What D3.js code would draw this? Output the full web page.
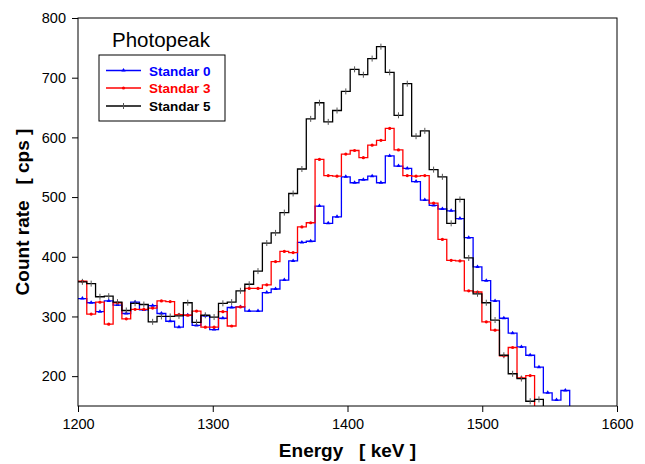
<!doctype html>
<html>
<head>
<meta charset="utf-8">
<title>Photopeak</title>
<style>
  body { margin: 0; background: #fff; }
  svg { display: block; }
  .tick text { font-family: "Liberation Sans", Arial, sans-serif; font-size: 14.5px; }
  .axis-title { font-family: "Liberation Sans", Arial, sans-serif; font-size: 19px; font-weight: bold; }
</style>
</head>
<body>
<svg></svg>
<script src="https://cdnjs.cloudflare.com/ajax/libs/d3/7.8.5/d3.min.js"></script>
<script>
// energy calibration of the channels: first channel edge and channel width (keV)
var energyStart = 1200;
var channelWidth = 6.516;

// count rate per channel [cps]
var standar0 = [330, 323, 308, 326, 319, 305, 324, 311, 318, 305, 292, 282, 302, 285, 301, 278,
  297, 315, 316, 309, 309, 340, 346, 361, 393, 424, 426, 485, 456, 467, 534, 524, 529, 535,
  524, 569, 552, 548, 526, 495, 486, 480, 477, 464, 432, 383, 360, 326, 297, 272, 249, 235,
  215, 172, 160, 176];
var standar3 = [359, 304, 324, 287, 323, 296, 312, 312, 314, 326, 325, 303, 302, 309, 282, 282,
  308, 284, 316, 347, 347, 353, 392, 409, 407, 450, 457, 563, 536, 535, 572, 578, 566, 587,
  595, 615, 579, 536, 535, 536, 490, 429, 394, 393, 343, 341, 291, 277, 234, 248, 197, 201];
var standar5 = [358, 355, 333, 334, 324, 310, 322, 320, 291, 300, 300, 301, 323, 290, 302, 299,
  322, 324, 343, 354, 376, 423, 440, 474, 506, 547, 631, 658, 626, 645, 677, 714, 705, 732,
  752, 709, 637, 690, 602, 611, 546, 534, 456, 496, 398, 338, 323, 294, 235, 204, 196, 158, 161];

var xTicks = [1200, 1300, 1400, 1500, 1600];
var yTicks = [200, 300, 400, 500, 600, 700, 800];

var series = [
  { name: "Standar 0", values: standar0, color: "#0000ff", marker: "triangle" },
  { name: "Standar 3", values: standar3, color: "#ff0000", marker: "circle" },
  { name: "Standar 5", values: standar5, color: "#000000", marker: "cross" }
];

var width = 645, height = 464;
var margin = { top: 18, right: 28, bottom: 58, left: 78 };

var svg = d3.select("svg")
  .attr("width", width)
  .attr("height", height);

var x = d3.scaleLinear()
  .domain([1200, 1600])
  .range([margin.left, width - margin.right]);

var y = d3.scaleLinear()
  .domain([150, 800])
  .range([height - margin.bottom, margin.top]);

svg.append("clipPath")
  .attr("id", "plot-clip")
  .append("rect")
  .attr("x", x(1200))
  .attr("y", y(800))
  .attr("width", x(1600) - x(1200))
  .attr("height", y(150) - y(800));

var line = d3.line()
  .x(function(d) { return x(d[0]); })
  .y(function(d) { return y(d[1]); })
  .curve(d3.curveStepAfter);

var plot = svg.append("g").attr("clip-path", "url(#plot-clip)");

series.forEach(function(s) {
  // step points on channel edges; the last one drops below the axis
  var pts = s.values.map(function(v, i) { return [energyStart + i * channelWidth, v]; });
  pts.push([energyStart + s.values.length * channelWidth, 100]);

  plot.append("path")
    .datum(pts)
    .attr("fill", "none")
    .attr("stroke", s.color)
    .attr("stroke-width", 1.3)
    .attr("d", line);

  var centers = s.values.map(function(v, i) { return [energyStart + (i + 0.5) * channelWidth, v]; });
  drawMarkers(plot, centers.map(function(c) { return [x(c[0]), y(c[1])]; }), s);
});

function drawMarkers(g, pts, s) {
  var m = g.append("g");
  if (s.marker === "cross") {
    m.selectAll("line").data(pts).enter().append("line")
      .attr("x1", function(d) { return d[0]; })
      .attr("x2", function(d) { return d[0]; })
      .attr("y1", function(d) { return d[1] - 3; })
      .attr("y2", function(d) { return d[1] + 3; })
      .attr("stroke", "#555")
      .attr("stroke-width", 1);
  } else if (s.marker === "circle") {
    m.selectAll("circle").data(pts).enter().append("circle")
      .attr("cx", function(d) { return d[0]; })
      .attr("cy", function(d) { return d[1]; })
      .attr("r", 1.6)
      .attr("fill", s.color);
  } else {
    m.selectAll("path").data(pts).enter().append("path")
      .attr("d", function(d) {
        return "M" + d[0] + "," + (d[1] - 2.5) + "L" + (d[0] + 2.2) + "," + (d[1] + 1) + "L" + (d[0] - 2.2) + "," + (d[1] + 1) + "Z";
      })
      .attr("fill", s.color);
  }
}

// axes
var xAxis = svg.append("g")
  .attr("transform", "translate(0," + y(150) + ")")
  .call(d3.axisBottom(x).tickValues(xTicks).tickFormat(d3.format("d")).tickSize(6).tickPadding(7));
xAxis.select(".domain").remove();

var yAxis = svg.append("g")
  .attr("transform", "translate(" + x(1200) + ",0)")
  .call(d3.axisLeft(y).tickValues(yTicks).tickSize(6).tickPadding(6));
yAxis.select(".domain").remove();

svg.selectAll(".tick line").attr("stroke", "#000");
svg.selectAll(".tick text").attr("fill", "#000");

// frame
svg.append("rect")
  .attr("x", x(1200))
  .attr("y", y(800))
  .attr("width", x(1600) - x(1200))
  .attr("height", y(150) - y(800))
  .attr("fill", "none")
  .attr("stroke", "#000")
  .attr("stroke-width", 1);

svg.append("text")
  .attr("class", "axis-title")
  .attr("x", (x(1200) + x(1600)) / 2)
  .attr("y", 457)
  .attr("text-anchor", "middle")
  .attr("xml:space", "preserve")
  .text("Energy   [ keV ]");

svg.append("text")
  .attr("class", "axis-title")
  .attr("transform", "translate(29," + (y(150) + y(800)) / 2 + ") rotate(-90)")
  .attr("text-anchor", "middle")
  .attr("xml:space", "preserve")
  .text("Count rate   [ cps ]");

// legend
var legend = svg.append("g");
legend.append("text")
  .attr("x", 112)
  .attr("y", 47)
  .attr("font-family", "Liberation Sans, Arial, sans-serif")
  .attr("font-size", 20.5)
  .text("Photopeak");

legend.append("rect")
  .attr("x", 99)
  .attr("y", 55)
  .attr("width", 126)
  .attr("height", 66)
  .attr("fill", "#fff")
  .attr("stroke", "#000")
  .attr("stroke-width", 1);

var rowY = [70.5, 88, 106];
series.forEach(function(s, i) {
  legend.append("line")
    .attr("x1", 106).attr("x2", 141)
    .attr("y1", rowY[i]).attr("y2", rowY[i])
    .attr("stroke", s.color)
    .attr("stroke-width", 1.3);
  drawMarkers(legend, [[123.5, rowY[i]]], s);
  legend.append("text")
    .attr("x", 149)
    .attr("y", rowY[i] + 5)
    .attr("font-family", "Liberation Sans, Arial, sans-serif")
    .attr("font-size", 13.5)
    .attr("font-weight", "bold")
    .attr("fill", s.color)
    .text(s.name);
});
</script>
</body>
</html>
